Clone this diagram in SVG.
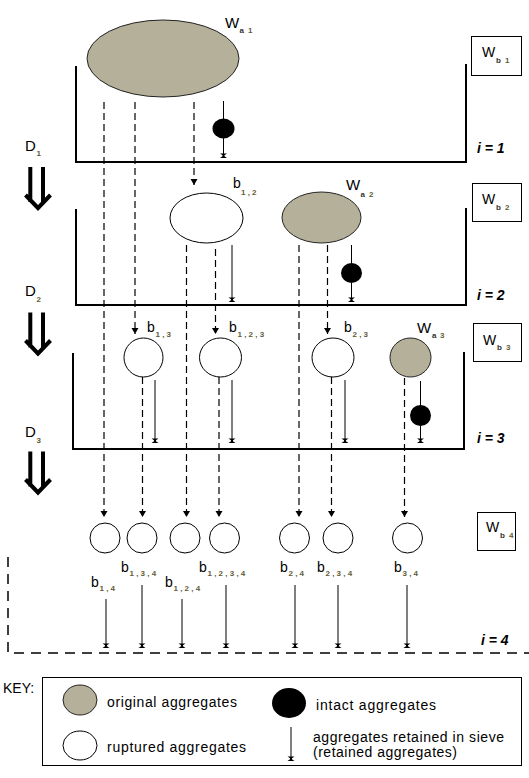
<svg xmlns="http://www.w3.org/2000/svg" width="529" height="778" viewBox="0 0 529 778">
<defs>
<marker id="tri" markerUnits="userSpaceOnUse" markerWidth="8" markerHeight="8" viewBox="-7 -4 8 8" refX="0" refY="0" orient="auto"><path d="M-6,-3.5 L0,0 L-6,3.5 z" fill="#000"/></marker>
<marker id="ret" markerUnits="userSpaceOnUse" markerWidth="8" markerHeight="8" viewBox="-6 -4 8 8" refX="0" refY="0" orient="auto"><path d="M-4.5,-3.5 L-4.5,3.5 L-2.8,1 L-1.7,1 L0,3.5 L0,-3.5 L-1.7,-1 L-2.8,-1 z" fill="#000"/></marker>
</defs>
<style>
.sieve{fill:none;stroke:#000;stroke-width:2}
.sieve4{fill:none;stroke:#000;stroke-width:1.5;stroke-dasharray:10 7}
.orig{fill:#b4b09a;stroke:#222;stroke-width:1}
.rup{fill:#fff;stroke:#000;stroke-width:1}
.intact{fill:#000}
.dash{stroke:#000;stroke-width:1.2;stroke-dasharray:7 4;fill:none;marker-end:url(#tri)}
.ret{stroke:#000;stroke-width:1;fill:none;marker-end:url(#ret)}
.plain{stroke:#000;stroke-width:1;fill:none}
.lbl{font-family:"Liberation Sans",Arial,sans-serif;font-size:14px;fill:#000}
.big{font-size:15px}
.sub{font-family:"Liberation Sans",Arial,sans-serif;font-size:8px;font-weight:bold;fill:#5f5b38}
.subk{fill:#333}
.lvl{font-family:"Liberation Sans",Arial,sans-serif;font-size:14px;font-weight:bold;font-style:italic;fill:#000}
.box{fill:#fff;stroke:#000;stroke-width:1}
.dbl{stroke:#000;stroke-width:4;fill:none}
.key{font-family:"Liberation Sans",Arial,sans-serif;font-size:14px;fill:#000}
</style>
<rect width="529" height="778" fill="#fff"/>

<!-- sieves -->
<g id="sieve1"><path class="sieve" d="M76,66 V162 H466 V64"/><text class="lvl" x="477" y="153">i = 1</text></g>
<g id="sieve2"><path class="sieve" d="M76,209 V305 H466 V208"/><text class="lvl" x="477" y="299.5">i = 2</text></g>
<g id="sieve3"><path class="sieve" d="M73,353 V449 H464 V352"/><text class="lvl" x="477" y="443">i = 3</text></g>
<g id="sieve4"><path class="sieve4" d="M8,557 V653 H529"/><text class="lvl" x="481" y="645">i = 4</text></g>

<!-- Wb boxes -->
<g id="wb1"><rect class="box" x="471.5" y="36.5" width="50" height="39"/><text class="lbl" x="482" y="57">W</text><text class="sub" y="63"><tspan class="subk" x="496">b</tspan><tspan x="505">1</tspan></text></g>
<g id="wb2"><rect class="box" x="472.5" y="183.5" width="49" height="38"/><text class="lbl" x="482" y="204">W</text><text class="sub" y="210"><tspan class="subk" x="496">b</tspan><tspan x="505">2</tspan></text></g>
<g id="wb3"><rect class="box" x="473.5" y="323.5" width="48" height="38"/><text class="lbl" x="483" y="344.5">W</text><text class="sub" y="350"><tspan class="subk" x="497">b</tspan><tspan x="506">3</tspan></text></g>
<g id="wb4"><rect class="box" x="477.5" y="512.5" width="38" height="38"/><text class="lbl" x="486" y="532">W</text><text class="sub" y="538"><tspan class="subk" x="500">b</tspan><tspan x="509">4</tspan></text></g>

<!-- D labels and double arrows -->
<g id="d1"><text class="lbl big" x="25" y="151">D</text><text class="sub" x="36.5" y="156">1</text></g>
<g id="d2"><text class="lbl big" x="25" y="296">D</text><text class="sub" x="36.5" y="302">2</text></g>
<g id="d3"><text class="lbl big" x="25" y="437">D</text><text class="sub" x="36.5" y="443">3</text></g>
<g id="step1"><path class="dbl" d="M30.3,167 V202 M43,167 V202 M25.5,195 L38,208 L50.5,195"/></g>
<g id="step2" transform="translate(0,145.5)"><path class="dbl" d="M30.3,167 V202 M43,167 V202 M25.5,195 L38,208 L50.5,195"/></g>
<g id="step3" transform="translate(0,284.5)"><path class="dbl" d="M30.3,167 V202 M43,167 V202 M25.5,195 L38,208 L50.5,195"/></g>

<!-- connectors -->
<g id="connectors">
<path class="dash" d="M104,102 V517"/>
<path class="dash" d="M135,102 V334"/>
<path class="dash" d="M194,102 V185"/>
<path class="dash" d="M186.5,245 V517"/>
<path class="dash" d="M215.5,249 V334"/>
<path class="dash" d="M299,245 V517"/>
<path class="dash" d="M327.5,245 V334"/>
<path class="dash" d="M142.5,377 V517"/>
<path class="dash" d="M219,377 V517"/>
<path class="dash" d="M331.5,377 V517"/>
<path class="dash" d="M404.5,378 V517"/>
<path class="plain" d="M223.5,101 V119"/>
<path class="ret" d="M223.5,138 V158"/>
<path class="ret" d="M232,245 V302"/>
<path class="plain" d="M351.5,245 V263"/>
<path class="ret" d="M351.5,283 V302"/>
<path class="ret" d="M155,380 V443"/>
<path class="ret" d="M232,380 V443"/>
<path class="ret" d="M345,380 V443"/>
<path class="plain" d="M420.5,381 V405"/>
<path class="ret" d="M420.5,426 V443"/>
<path class="ret" d="M106,599 V648"/>
<path class="ret" d="M142,585 V648"/>
<path class="ret" d="M182,599 V648"/>
<path class="ret" d="M226,585 V648"/>
<path class="ret" d="M295,585 V648"/>
<path class="ret" d="M338,585 V648"/>
<path class="ret" d="M407,585 V648"/>
</g>

<!-- aggregates -->
<g id="wa1"><ellipse class="orig" cx="163" cy="58.5" rx="76" ry="38.5"/><text class="lbl big" x="225" y="28">W</text><text class="sub" y="33"><tspan class="subk" x="239.5">a</tspan><tspan x="248">1</tspan></text></g>
<g id="intact1"><ellipse class="intact" cx="223.5" cy="128.5" rx="11" ry="10"/></g>
<g id="b12"><ellipse class="rup" cx="206.5" cy="218" rx="36.5" ry="25"/><text class="lbl" x="233" y="188">b</text><text class="sub" x="241" y="195">1 , 2</text></g>
<g id="wa2"><ellipse class="orig" cx="321.5" cy="217.5" rx="39.5" ry="25.5"/><text class="lbl big" x="346" y="190">W</text><text class="sub" y="197"><tspan class="subk" x="360.5">a</tspan><tspan x="369">2</tspan></text></g>
<g id="intact2"><ellipse class="intact" cx="351.5" cy="273" rx="10.5" ry="10"/></g>
<g id="b13"><ellipse class="rup" cx="143.5" cy="357.5" rx="19.5" ry="19.5"/><text class="lbl" x="147" y="331.5">b</text><text class="sub" x="155.5" y="337">1 , 3</text></g>
<g id="b123"><ellipse class="rup" cx="220.5" cy="357.5" rx="21" ry="19.5"/><text class="lbl" x="229" y="331.5">b</text><text class="sub" x="237.5" y="337">1 , 2 , 3</text></g>
<g id="b23"><ellipse class="rup" cx="333" cy="357.5" rx="21" ry="19.5"/><text class="lbl" x="344" y="331.5">b</text><text class="sub" x="352.5" y="337">2 , 3</text></g>
<g id="wa3"><ellipse class="orig" cx="410.5" cy="357.5" rx="20.5" ry="19.5"/><text class="lbl big" x="417" y="333">W</text><text class="sub" y="338"><tspan class="subk" x="432">a</tspan><tspan x="440">3</tspan></text></g>
<g id="intact3"><ellipse class="intact" cx="420.5" cy="415.5" rx="10.5" ry="10.5"/></g>

<g id="b14"><circle class="rup" cx="105" cy="538" r="15"/><text class="lbl" x="91" y="586.5">b</text><text class="sub" x="99.5" y="591">1 , 4</text></g>
<g id="b134"><circle class="rup" cx="142" cy="538" r="15"/><text class="lbl" x="121" y="571.5">b</text><text class="sub" x="129.5" y="576">1 , 3 , 4</text></g>
<g id="b124"><circle class="rup" cx="185" cy="538" r="15"/><text class="lbl" x="165" y="586.5">b</text><text class="sub" x="173.5" y="591">1 , 2 , 4</text></g>
<g id="b1234"><circle class="rup" cx="224.5" cy="538" r="15"/><text class="lbl" x="199" y="571.5">b</text><text class="sub" x="207.5" y="576">1 , 2 , 3 , 4</text></g>
<g id="b24"><circle class="rup" cx="294.5" cy="538" r="15"/><text class="lbl" x="280" y="571.5">b</text><text class="sub" x="288.5" y="576">2 , 4</text></g>
<g id="b234"><circle class="rup" cx="338" cy="538" r="15"/><text class="lbl" x="317" y="571.5">b</text><text class="sub" x="325.5" y="576">2 , 3 , 4</text></g>
<g id="b34"><circle class="rup" cx="407.5" cy="538" r="15"/><text class="lbl" x="394" y="571.5">b</text><text class="sub" x="402.5" y="576">3 , 4</text></g>

<!-- key -->
<g id="key">
<text class="key" x="3" y="693">KEY:</text>
<rect class="box" x="42.5" y="677.5" width="479" height="88"/>
<ellipse class="orig" cx="80" cy="700" rx="17" ry="15"/>
<text class="key" x="107" y="707" textLength="130" lengthAdjust="spacing">original aggregates</text>
<ellipse class="rup" cx="80" cy="745.5" rx="17" ry="14.5"/>
<text class="key" x="107" y="752" textLength="139" lengthAdjust="spacing">ruptured aggregates</text>
<ellipse class="intact" cx="289" cy="703" rx="17" ry="15"/>
<text class="key" x="316" y="710" textLength="120" lengthAdjust="spacing">intact aggregates</text>
<path class="ret" d="M291,727 V761"/>
<text class="key" x="313" y="742" textLength="191" lengthAdjust="spacing">aggregates retained in sieve</text>
<text class="key" x="313" y="757" textLength="144" lengthAdjust="spacing">(retained aggregates)</text>
</g>
</svg>
